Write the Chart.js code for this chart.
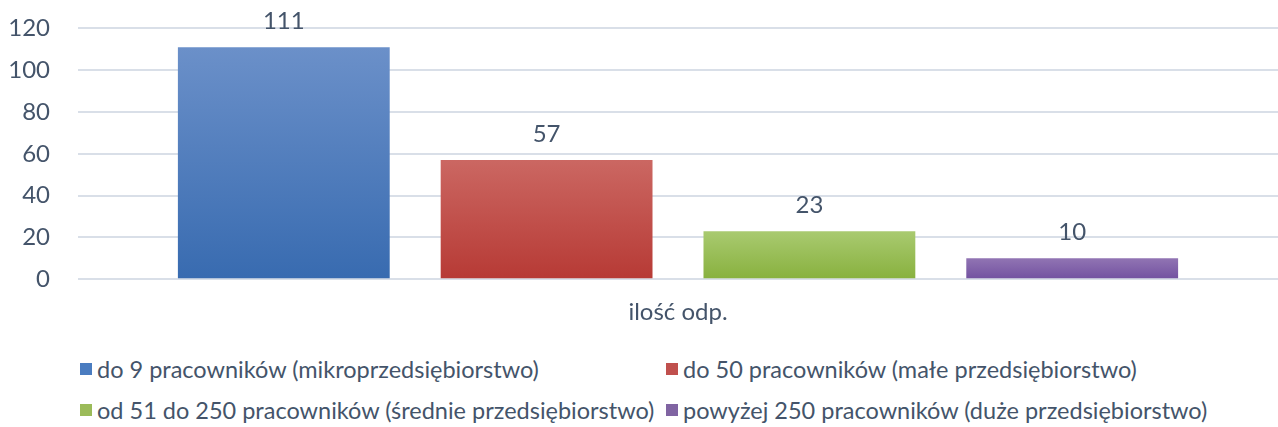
<!DOCTYPE html>
<html>
<head>
<meta charset="utf-8">
<script src="https://cdn.jsdelivr.net/npm/chart.js@4"></script>
<style>
  html, body { margin: 0; padding: 0; background: #fff; overflow: hidden; }
  #wrap { position: relative; width: 1278px; height: 427px; overflow: hidden; }
  #chart { position: absolute; left: 0; top: -14px; }
  #legend {
    position: absolute; left: 80px; top: 355px;
    display: grid; grid-template-columns: 586px auto; row-gap: 13px;
    font-family: Lato, "Open Sans", sans-serif; font-size: 23.5px; color: #44546A;
  }
  #legend span.item { display: flex; align-items: center; white-space: nowrap; height: 28px; }
  #legend i { display: inline-block; width: 12px; height: 12px; margin-right: 5px; }
</style>
</head>
<body>
<div id="wrap">
  <canvas id="chart" width="1278" height="352"></canvas>
  <div id="legend"></div>
</div>
<script>
const categories = ["ilość odp."]
const seriesNames = [
  "do 9 pracowników (mikroprzedsiębiorstwo)",
  "do 50 pracowników (małe przedsiębiorstwo)",
  "od 51 do 250 pracowników (średnie przedsiębiorstwo)",
  "powyżej 250 pracowników (duże przedsiębiorstwo)"
]
const seriesValues = [111, 57, 23, 10]
const yTicks = [0, 20, 40, 60, 80, 100, 120]

const TEXT = "#44546A"
const FONT = "Lato, 'Open Sans', sans-serif"
// top colour, bottom colour, legend swatch
const COLORS = [
  ["#6B90C9", "#386BB0", "#4A7CC0"],
  ["#CB6762", "#B73A35", "#C0504D"],
  ["#A9CA70", "#88B13E", "#9BBB59"],
  ["#9174B3", "#7251A0", "#8064A2"]
]

function gradientFor(i) {
  return (ctx) => {
    const chart = ctx.chart
    if (!chart.chartArea) return COLORS[i][2]
    const y = chart.scales.y
    const top = y.getPixelForValue(seriesValues[i])
    const bottom = y.getPixelForValue(0)
    const g = chart.ctx.createLinearGradient(0, top, 0, bottom)
    g.addColorStop(0, COLORS[i][0])
    g.addColorStop(1, COLORS[i][1])
    return g
  }
}

const valueLabels = {
  id: "valueLabels",
  afterDatasetsDraw(chart) {
    const { ctx } = chart
    ctx.save()
    ctx.font = "24px " + FONT
    ctx.fillStyle = TEXT
    ctx.textAlign = "center"
    ctx.textBaseline = "bottom"
    chart.data.datasets.forEach((ds, i) => {
      chart.getDatasetMeta(i).data.forEach((bar, j) => {
        ctx.fillText(String(ds.data[j]), bar.x, bar.y - 14)
      })
    })
    ctx.restore()
  }
}

const datasets = seriesNames.map((name, i) => ({
  label: name,
  data: [seriesValues[i]],
  backgroundColor: gradientFor(i),
  borderWidth: 0,
  categoryPercentage: 0.876,
  barPercentage: 0.806
}))

new Chart(document.getElementById("chart"), {
  type: "bar",
  data: { labels: categories, datasets },
  plugins: [valueLabels],
  options: {
    responsive: false,
    animation: false,
    layout: { padding: { top: 3, right: 0, left: 0, bottom: 0 } },
    plugins: { legend: { display: false }, tooltip: { enabled: false } },
    scales: {
      x: {
        grid: { display: false },
        border: { display: false },
        ticks: { color: TEXT, font: { family: FONT, size: 24 }, padding: 11 }
      },
      y: {
        min: 0, max: 120,
        afterBuildTicks: (axis) => { axis.ticks = yTicks.map(v => ({ value: v })) },
        afterFit: (axis) => { axis.width = 78 },
        grid: { color: "#D9DFE8", lineWidth: 2, drawTicks: false },
        border: { display: false },
        ticks: { color: TEXT, font: { family: FONT, size: 24 }, padding: 28 }
      }
    }
  }
})

const legend = document.getElementById("legend")
seriesNames.forEach((name, i) => {
  const item = document.createElement("span")
  item.className = "item"
  const sw = document.createElement("i")
  sw.style.background = COLORS[i][2]
  item.appendChild(sw)
  item.appendChild(document.createTextNode(name))
  legend.appendChild(item)
})
</script>
</body>
</html>
